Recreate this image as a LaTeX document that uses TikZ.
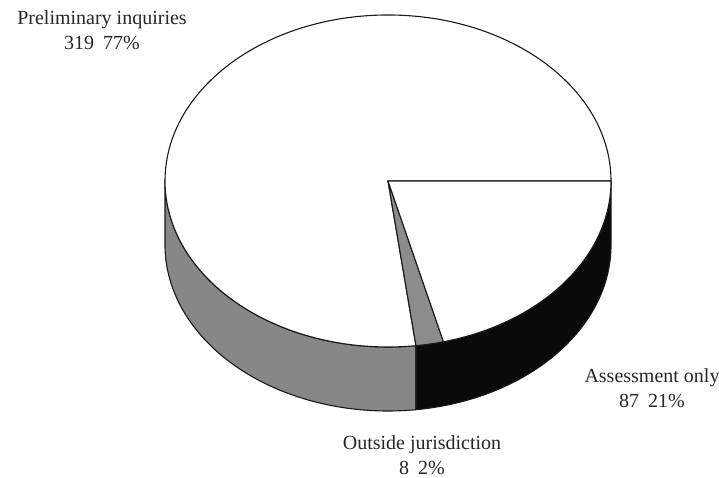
\documentclass[tikz,border=0pt]{standalone}
\usepackage{fontspec}
\setmainfont{Liberation Serif}
\usetikzlibrary{calc}
\begin{document}
\begin{tikzpicture}[x=1bp,y=1bp,
  edge/.style={draw=black!90,line width=1.1bp,line join=round},
  sidegray/.style={edge,fill=black!47},
  sideblack/.style={edge,fill=black!96},
  topwhite/.style={edge,fill=white},
  topgray/.style={edge,fill=black!45},
  lab/.style={align=center,text=black!85,font=\fontsize{20bp}{25bp}\selectfont,inner sep=0pt}]
\useasboundingbox (0,0) rectangle (719,478);
\def\ra{223bp}\def\rb{166bp}\def\dep{64}
\coordinate (C) at (388,297);
% side, gray (Preliminary)
\path[sidegray] ($(C)+(180:223 and 166)$) coordinate (L)
  arc[start angle=180,end angle=277.2,x radius=\ra,y radius=\rb] coordinate (F)
  -- ++(0,-\dep) arc[start angle=277.2,end angle=180,x radius=\ra,y radius=\rb] -- cycle;
% side, black (Outside + Assessment)
\path[sideblack] (F)
  arc[start angle=277.2,end angle=360,x radius=\ra,y radius=\rb] coordinate (R)
  -- ++(0,-\dep) arc[start angle=360,end angle=277.2,x radius=\ra,y radius=\rb] -- cycle;
% top, Preliminary inquiries
\path[topwhite] (C) -- (R)
  arc[start angle=0,end angle=277.2,x radius=\ra,y radius=\rb] -- cycle;
% top, Outside jurisdiction
\path[topgray] (C) -- (F)
  arc[start angle=277.2,end angle=284.4,x radius=\ra,y radius=\rb] coordinate (G) -- cycle;
% top, Assessment only
\path[topwhite] (C) -- (G)
  arc[start angle=284.4,end angle=360,x radius=\ra,y radius=\rb] -- cycle;
% labels
\node[lab] (prelim) at (102,448) {Preliminary inquiries\\319\hspace{0.45em}77\%};
\node[lab] (assess) at (652,90) {Assessment only\\87\hspace{0.45em}21\%};
\node[lab] (outside) at (422,23) {Outside jurisdiction\\8\hspace{0.45em}2\%};
\end{tikzpicture}
\end{document}
